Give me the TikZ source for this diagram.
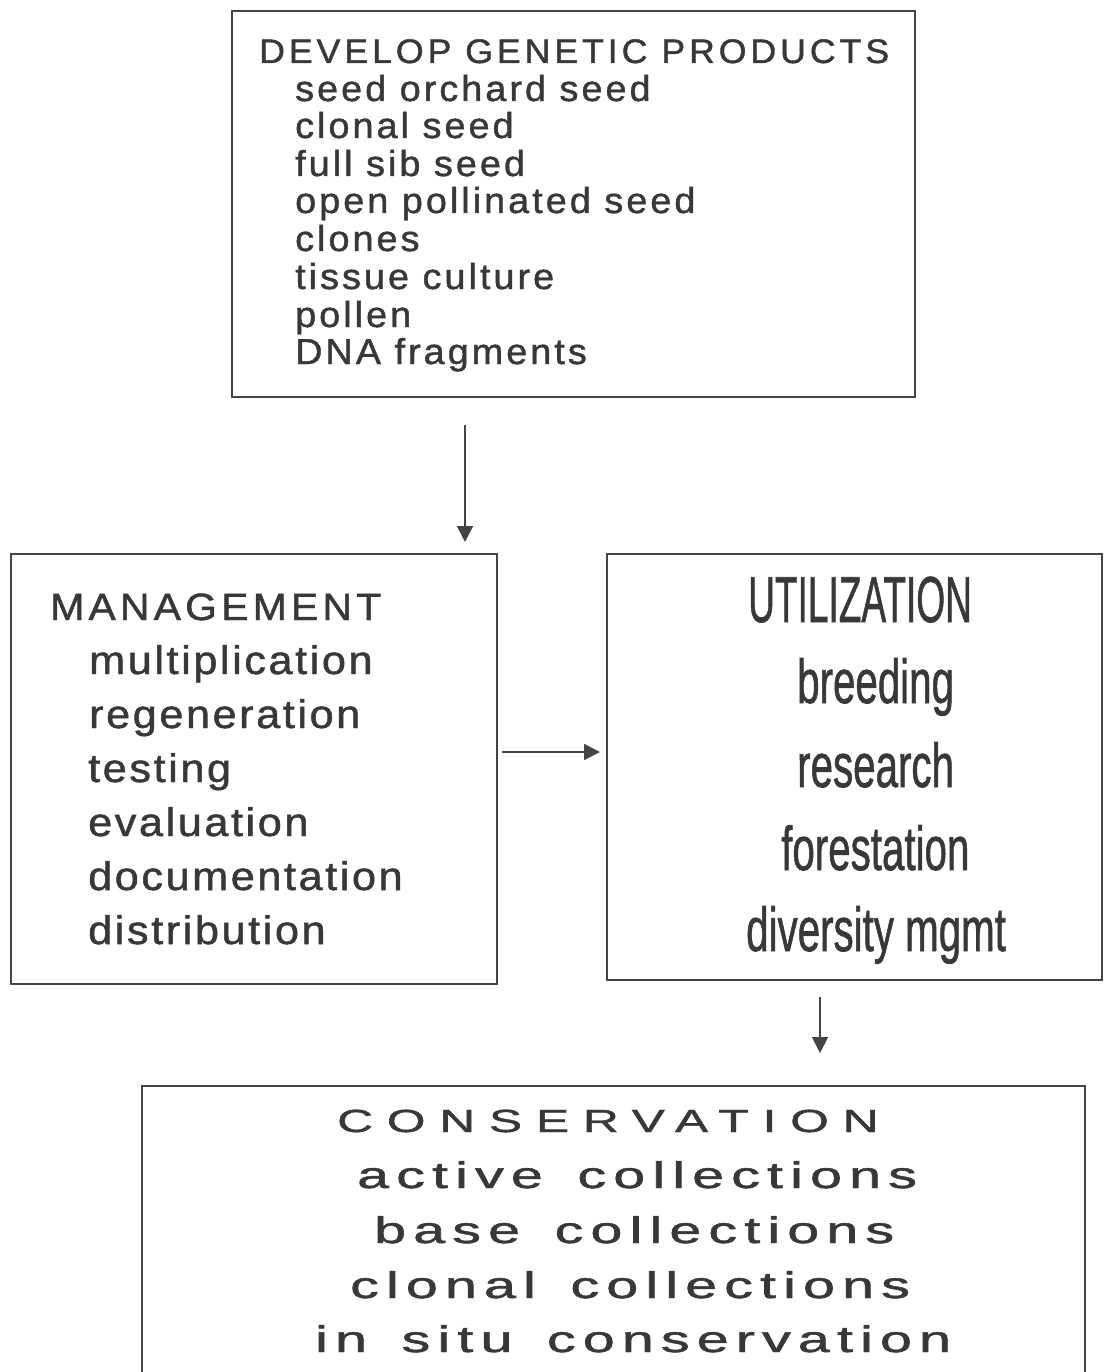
\documentclass[tikz,border=0pt]{standalone}
\usepackage{fontspec}
\usepackage{graphicx}
\setmainfont{Liberation Sans}
\newfontfamily\toptfont[LetterSpace=11,FakeBold=1.2]{Liberation Sans}
\newfontfamily\topifont[LetterSpace=8,FakeBold=1.2]{Liberation Sans}
\newfontfamily\mgtfont[LetterSpace=10,FakeBold=1.2]{Liberation Sans}
\newfontfamily\mgifont[LetterSpace=6,FakeBold=1.2]{Liberation Sans}
\newfontfamily\plainfont[FakeBold=1.2]{Liberation Sans}
\newfontfamily\cnstfont[LetterSpace=28,FakeBold=1.2]{Liberation Sans}
\newfontfamily\cnsifont[LetterSpace=12.5,WordSpace=1.5,FakeBold=1.2]{Liberation Sans}
\usetikzlibrary{arrows.meta}
\definecolor{ink}{HTML}{383838}
\definecolor{edge}{HTML}{444444}
\newcommand\devT[1]{\scalebox{1.05}[1]{\toptfont\fontsize{34}{40}\selectfont #1}}
\newcommand\devI[1]{\scalebox{1.05}[1]{\topifont\fontsize{36}{42}\selectfont #1}}
\newcommand\mgtT[1]{\scalebox{1.08}[1]{\mgtfont\fontsize{38}{44}\selectfont #1}}
\newcommand\mgtI[1]{\scalebox{1.08}[1]{\mgifont\fontsize{40}{46}\selectfont #1}}
\newcommand\utlT[1]{\scalebox{0.57}[1]{\plainfont\fontsize{65}{70}\selectfont #1}}
\newcommand\utlI[1]{\scalebox{0.65}[1]{\plainfont\fontsize{62}{70}\selectfont #1}}
\newcommand\cnsT[1]{\scalebox{1.55}[1]{\cnstfont\fontsize{32}{38}\selectfont #1}}
\newcommand\cnsI[1]{\scalebox{1.55}[1]{\cnsifont\fontsize{37}{44}\selectfont #1}}
\tikzset{
  box/.style={draw=edge, line width=1.8pt, anchor=north west, inner sep=0pt},
  txt/.style={anchor=base west, inner sep=0pt, text=ink},
  arr/.style={draw=edge, line width=1.8pt, -{Triangle[width=16pt,length=16pt]}}
}
\begin{document}
\begin{tikzpicture}[x=1pt,y=-1pt]
\useasboundingbox (0,0) rectangle (1103,1372);
\begin{scope}
\clip (0,0) rectangle (1103,1372);
% boxes
\node[box, minimum width=683pt, minimum height=386pt] (dev) at (231,10) {};
\node[box, minimum width=486pt, minimum height=430pt] (mgt) at (10,553) {};
\node[box, minimum width=495pt, minimum height=426pt] (utl) at (606,553) {};
\node[box, minimum width=943pt, minimum height=300pt] (cns) at (141,1085) {};
\end{scope}
% develop texts
\node[txt] (d0) at (259,63) {\devT{DEVELOP GENETIC PRODUCTS}};
\node[txt] (d1) at (295,101) {\devI{seed orchard seed}};
\node[txt] (d2) at (295,138) {\devI{clonal seed}};
\node[txt] (d3) at (295,176) {\devI{full sib seed}};
\node[txt] (d4) at (295,213) {\devI{open pollinated seed}};
\node[txt] (d5) at (295,251) {\devI{clones}};
\node[txt] (d6) at (295,289) {\devI{tissue culture}};
\node[txt] (d7) at (295,327) {\devI{pollen}};
\node[txt] (d8) at (295,364) {\devI{DNA fragments}};
% management texts
\node[txt] (m0) at (50,620) {\mgtT{MANAGEMENT}};
\node[txt] (m1) at (89,674) {\mgtI{multiplication}};
\node[txt] (m2) at (89,728) {\mgtI{regeneration}};
\node[txt] (m3) at (88,782) {\mgtI{testing}};
\node[txt] (m4) at (88,836) {\mgtI{evaluation}};
\node[txt] (m5) at (88,890) {\mgtI{documentation}};
\node[txt] (m6) at (88,944) {\mgtI{distribution}};
% utilization texts
\node[txt] (u0) at (748,622) {\utlT{UTILIZATION}};
\node[txt] (u1) at (797,703) {\utlI{breeding}};
\node[txt] (u2) at (797,787) {\utlI{research}};
\node[txt] (u3) at (781,870) {\utlI{forestation}};
\node[txt] (u4) at (746,951) {\utlI{diversity mgmt}};
% conservation texts
\node[txt] (c0) at (337,1132) {\cnsT{CONSERVATION}};
\node[txt] (c1) at (357,1188) {\cnsI{active collections}};
\node[txt] (c2) at (374,1243) {\cnsI{base collections}};
\node[txt] (c3) at (350,1298) {\cnsI{clonal collections}};
\node[txt] (c4) at (315,1352) {\cnsI{in situ conservation}};
% connectors
\coordinate (a1s) at (465,425);
\coordinate (a1e) at (465,542);
\coordinate (a2s) at (502,752);
\coordinate (a2e) at (600,752);
\coordinate (a3s) at (820,997);
\coordinate (a3e) at (820,1053);
\draw[arr] (a1s) -- (a1e);
\draw[arr] (a2s) -- (a2e);
\draw[arr] (a3s) -- (a3e);
\end{tikzpicture}
\end{document}
